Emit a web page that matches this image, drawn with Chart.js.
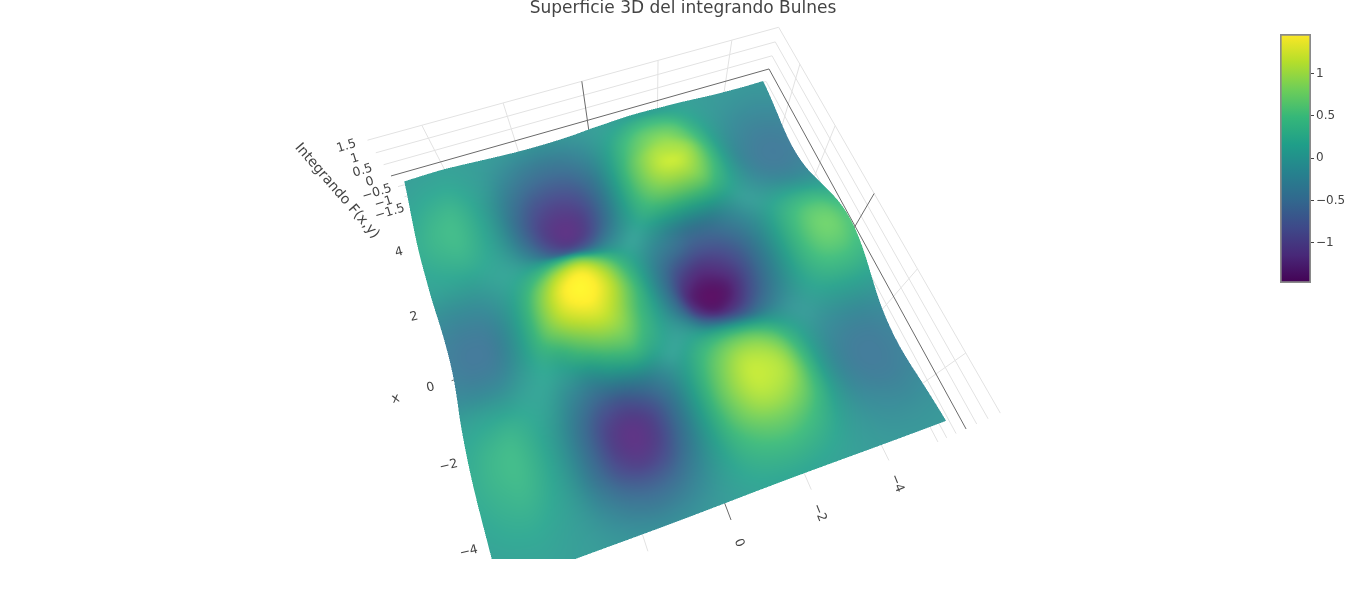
<!DOCTYPE html>
<html>
<head>
<meta charset="utf-8">
<title>Superficie 3D del integrando Bulnes</title>
<script src="https://cdn.jsdelivr.net/npm/chart.js@4"></script>
<style>
  html, body { margin: 0; padding: 0; background: #fff; overflow: hidden; }
  #surfaceChart { position: absolute; left: 0; top: 0; }
  #colorbarChart { position: absolute; left: 1260px; top: 0; }
</style>
</head>
<body>
<canvas id="surfaceChart" width="1366" height="559"></canvas>
<canvas id="colorbarChart" width="106" height="300"></canvas>
<script>
const xValues = [5,4.5,4,3.5,3,2.5,2,1.5,1,0.5,0,-0.5,-1,-1.5,-2,-2.5,-3,-3.5,-4,-4.5,-5];
const yValues = [-5,-4.5,-4,-3.5,-3,-2.5,-2,-1.5,-1,-0.5,0,0.5,1,1.5,2,2.5,3,3.5,4,4.5,5];

// F(x,y), one row per x value, one column per y value
const zRows = [
  [-.05,-.06,-.05,-.03,.01,.05,.07,.09,.09,.05,.01,-.05,-.08,-.09,-.08,-.05,-.01,.03,.06,.05,.03],
  [-.11,-.13,-.11,-.06,.03,.17,.30,.36,.33,.20,.02,-.17,-.31,-.36,-.30,-.17,-.03,.06,.12,.11,.07],
  [-.20,-.23,-.21,-.11,.07,.31,.54,.62,.58,.38,.04,-.32,-.58,-.65,-.55,-.32,-.05,.12,.22,.20,.13],
  [-.30,-.34,-.30,-.16,.10,.44,.72,.85,.78,.52,.06,-.47,-.84,-.95,-.82,-.47,-.08,.18,.32,.29,.19],
  [-.35,-.39,-.35,-.19,.12,.53,.90,1.02,.98,.65,.07,-.55,-.99,-1.12,-.96,-.55,-.08,.21,.37,.34,.23],
  [-.31,-.35,-.31,-.16,.11,.50,.90,1.10,1.02,.64,.07,-.50,-.92,-1.05,-.87,-.48,-.06,.20,.35,.31,.21],
  [-.18,-.19,-.16,-.09,.06,.30,.62,.72,.68,.44,.06,-.30,-.58,-.62,-.52,-.25,.00,.15,.24,.20,.13],
  [.04,.07,.08,.04,-.02,-.14,-.28,-.30,-.15,.02,.05,-.03,-.02,.10,.14,.13,.10,.08,.05,.04,.03],
  [.28,.37,.35,.19,-.12,-.46,-.70,-.72,-.50,-.26,.04,.30,.58,.78,.72,.50,.23,.00,-.15,-.18,-.16],
  [.47,.60,.57,.30,-.18,-.70,-1.05,-1.18,-.95,-.45,.04,.52,1.00,1.28,1.18,.82,.34,-.05,-.30,-.35,-.30],
  [.54,.69,.65,.34,-.20,-.78,-1.30,-1.42,-1.18,-.52,.04,.60,1.15,1.45,1.38,.95,.38,-.07,-.36,-.41,-.35],
  [.47,.60,.57,.30,-.16,-.66,-1.12,-1.25,-.98,-.42,.05,.50,1.02,1.30,1.20,.82,.34,-.05,-.30,-.35,-.30],
  [.29,.37,.35,.18,-.10,-.38,-.62,-.62,-.45,-.12,.08,.40,.80,.88,.64,.30,.18,.00,-.15,-.18,-.16],
  [.06,.08,.07,.03,-.03,.00,.08,.16,.22,.20,.08,.18,.38,.22,-.06,-.05,.08,.08,.05,.04,.02],
  [-.15,-.18,-.17,-.11,.05,.30,.58,.74,.72,.50,.12,-.20,-.42,-.62,-.58,-.30,.01,.16,.24,.20,.13],
  [-.27,-.34,-.32,-.19,.08,.47,.86,1.02,1.00,.68,.15,-.42,-.88,-1.05,-.90,-.48,-.06,.20,.35,.31,.20],
  [-.31,-.38,-.37,-.22,.08,.52,.94,1.08,1.06,.74,.15,-.47,-.96,-1.12,-.96,-.52,-.08,.21,.37,.33,.22],
  [-.27,-.34,-.32,-.19,.08,.46,.80,.96,.93,.63,.12,-.40,-.82,-.97,-.83,-.47,-.07,.18,.32,.28,.19],
  [-.18,-.23,-.21,-.13,.05,.31,.54,.66,.62,.42,.08,-.27,-.55,-.64,-.55,-.32,-.05,.12,.22,.20,.13],
  [-.10,-.12,-.12,-.07,.02,.17,.30,.37,.34,.23,.05,-.15,-.30,-.36,-.30,-.17,-.03,.06,.12,.11,.07],
  [-.04,-.06,-.05,-.03,.01,.07,.12,.15,.14,.10,.02,-.06,-.12,-.14,-.12,-.07,-.01,.03,.06,.05,.03]
];

const xTicks = [-4,-2,0,2,4];
const yTicks = [-4,-2,0,2,4];
const zTicks = [-1.5,-1,-0.5,0,0.5,1,1.5];
const colorbarTicks = [-1,-0.5,0,0.5,1];
const viridisColors = ["#440154","#482878","#3e4989","#31688e","#26828e","#1f9e89","#35b779","#6ece58","#b5de2b","#fde725"];

const chartTitle = "Superficie 3D del integrando Bulnes";
const zTitle = "Integrando F(x,y)";
const xTitle = "x";

const colorMin = -1.473, colorMax = 1.467;
const boxSide = 5.3, boxZ = 1.5;

// camera of the scene, world (x,y,z,1) to screen units
const camera = [
  [2.028, -41.57, -35.86, 600.55],
  [-26.90, 9.566, -31.57, 267.85],
  [0.02291, -0.00768, -0.055, 0.9193]
];

const titleSize = 17;
const titleBox = titleSize * 1.2;
const fontName = "'DejaVu Sans', Verdana, sans-serif";
const textColor = "#444";

function project(x, y, z) {
  const r = camera.map(c => c[0]*x + c[1]*y + c[2]*z + c[3]);
  return { x: r[0]/r[2], y: r[1]/r[2] };
}

function tickText(v) {
  return v < 0 ? "\u2212" + Math.abs(v) : String(v);
}

function hexRgb(h) {
  return [1,3,5].map(i => parseInt(h.substr(i,2),16));
}

const viridisRgb = viridisColors.map(hexRgb);
function viridis(z) {
  let t = (z - colorMin) / (colorMax - colorMin);
  t = Math.max(0, Math.min(1, t)) * (viridisRgb.length - 1);
  const i = Math.min(Math.floor(t), viridisRgb.length - 2);
  const f = t - i;
  return viridisRgb[i].map((c,k) => c + (viridisRgb[i+1][k] - c) * f);
}

// smooth reading of zRows between the table entries, only used to paint the mesh
function catmull(a, b, c, d, t) {
  return 0.5*((2*b) + (c-a)*t + (2*a-5*b+4*c-d)*t*t + (3*b-a-3*c+d)*t*t*t);
}
function zAt(u, v) {
  const n = zRows.length - 1, m = zRows[0].length - 1;
  const i = Math.min(Math.floor(u), n-1), j = Math.min(Math.floor(v), m-1);
  const row = k => {
    const r = zRows[Math.max(0, Math.min(n, k))];
    return catmull(r[Math.max(0,j-1)], r[j], r[j+1], r[Math.min(m,j+2)], v-j);
  };
  return catmull(row(i-1), row(i), row(i+1), row(i+2), u-i);
}

function shaded(u, v) {
  const z = zAt(u, v);
  const n = zRows.length - 1;
  const m = zRows[0].length - 1;
  const u0 = Math.max(0,u-0.5), u1 = Math.min(n,u+0.5);
  const v0 = Math.max(0,v-0.5), v1 = Math.min(m,v+0.5);
  const dzu = (zAt(u1,v) - zAt(u0,v)) / ((u1-u0)*0.5);
  const dzv = (zAt(u,v1) - zAt(u,v0)) / ((v1-v0)*0.5);
  const slope = Math.sqrt(dzu*dzu + dzv*dzv) * (boxSide/boxZ);
  const s = 1 / Math.sqrt(1 + slope*slope*0.2);
  const c = viridis(z);
  const lift = [22, 11, 11];
  return c.map((w,k) => Math.min(255, w*(0.92+0.10*s) + lift[k]*s));
}

// flat list of the grid points, so the mesh is laid out by the chart scales
const surfacePoints = [];
xValues.forEach((x,i) => yValues.forEach((y,j) => surfacePoints.push({ ...project(x, y, zRows[i][j]), i, j })));

function fillTriangle(img, a, b, c) {
  const w = img.width, h = img.height, px = img.data;
  const x0 = Math.max(0, Math.floor(Math.min(a.x, b.x, c.x)));
  const x1 = Math.min(w-1, Math.ceil(Math.max(a.x, b.x, c.x)));
  const y0 = Math.max(0, Math.floor(Math.min(a.y, b.y, c.y)));
  const y1 = Math.min(h-1, Math.ceil(Math.max(a.y, b.y, c.y)));
  const area = (b.x-a.x)*(c.y-a.y) - (b.y-a.y)*(c.x-a.x);
  if (Math.abs(area) < 1e-6) return;
  for (let y = y0; y <= y1; y++) {
    for (let x = x0; x <= x1; x++) {
      const pxx = x + 0.5, pxy = y + 0.5;
      const l1 = ((b.x-pxx)*(c.y-pxy) - (b.y-pxy)*(c.x-pxx)) / area;
      const l2 = ((c.x-pxx)*(a.y-pxy) - (c.y-pxy)*(a.x-pxx)) / area;
      const l3 = 1 - l1 - l2;
      if (l1 < -0.001 || l2 < -0.001 || l3 < -0.001) continue;
      const o = (y*w + x) * 4;
      px[o]   = l1*a.c[0] + l2*b.c[0] + l3*c.c[0];
      px[o+1] = l1*a.c[1] + l2*b.c[1] + l3*c.c[1];
      px[o+2] = l1*a.c[2] + l2*b.c[2] + l3*c.c[2];
      px[o+3] = 255;
    }
  }
}

const surfaceMesh = {
  id: "surfaceMesh",
  afterDatasetsDraw(chart) {
    const ctx = chart.ctx, sx = chart.scales.x, sy = chart.scales.y;
    const steps = 6, ss = 2;
    const n = (xValues.length - 1) * steps, m = (yValues.length - 1) * steps;
    const pos = [];
    for (let a = 0; a <= n; a++) {
      const line = [];
      const wx = xValues[0] + (xValues[xValues.length-1] - xValues[0]) * a / n;
      for (let b = 0; b <= m; b++) {
        const wy = yValues[0] + (yValues[yValues.length-1] - yValues[0]) * b / m;
        const p = project(wx, wy, zAt(a/steps, b/steps));
        line.push({ x: sx.getPixelForValue(p.x)*ss, y: sy.getPixelForValue(p.y)*ss, c: shaded(a/steps, b/steps) });
      }
      pos.push(line);
    }
    const off = document.createElement("canvas");
    off.width = chart.width*ss;
    off.height = chart.height*ss;
    const octx = off.getContext("2d");
    const img = octx.createImageData(off.width, off.height);
    for (let a = 0; a < n; a++) {
      for (let b = 0; b < m; b++) {
        fillTriangle(img, pos[a][b], pos[a][b+1], pos[a+1][b+1]);
        fillTriangle(img, pos[a][b], pos[a+1][b+1], pos[a+1][b]);
      }
    }
    octx.putImageData(img, 0, 0);
    ctx.save();
    ctx.imageSmoothingEnabled = true;
    ctx.imageSmoothingQuality = "high";
    ctx.drawImage(off, 0, 0, chart.width, chart.height);
    ctx.restore();
  }
};

function drawLabel(chart, text, p, dx, dy, deg, size) {
  const ctx = chart.ctx;
  ctx.save();
  ctx.translate(chart.scales.x.getPixelForValue(p.x) + dx, chart.scales.y.getPixelForValue(p.y) + dy);
  ctx.rotate(deg * Math.PI / 180);
  ctx.font = `${size}px ${fontName}`;
  ctx.fillStyle = textColor;
  ctx.textAlign = "center";
  ctx.textBaseline = "middle";
  ctx.fillText(text, 0, 0);
  ctx.restore();
}

const axisLabels = {
  id: "axisLabels",
  afterDraw(chart) {
    zTicks.forEach(z => drawLabel(chart, tickText(z), project(boxSide, boxSide, z), -21, 6, -17, 12.5));
    xTicks.forEach(x => drawLabel(chart, tickText(x), project(x, boxSide, -boxZ), -21, 7, -14, 12.5));
    yTicks.forEach(y => drawLabel(chart, tickText(y), project(-boxSide, y, -boxZ), 8, 23, 68, 12.5));
    drawLabel(chart, zTitle, project(boxSide, boxSide, 0), -54, 15, 49, 14);
    drawLabel(chart, xTitle, project(0, boxSide, -boxZ), -56, 18, -14, 13);
  }
};

function gridLine(a, b, major) {
  return {
    data: [project(...a), project(...b)],
    showLine: true,
    pointRadius: 0,
    borderWidth: 1,
    borderColor: major ? "#6a6a6a" : "#e2e2e2",
    order: major ? 0 : 1
  };
}

const lineSets = [];
zTicks.forEach(z => {
  lineSets.push(gridLine([boxSide, boxSide, z], [boxSide, -boxSide, z], z === 0));
  lineSets.push(gridLine([boxSide, -boxSide, z], [-boxSide, -boxSide, z], z === 0));
});
yTicks.forEach(y => {
  lineSets.push(gridLine([boxSide, y, -boxZ], [boxSide, y, boxZ], y === 0));
  lineSets.push(gridLine([-boxSide, y, -boxZ], [boxSide, y, -boxZ], y === 0));
});
xTicks.forEach(x => {
  lineSets.push(gridLine([x, -boxSide, -boxZ], [x, -boxSide, boxZ], x === 0));
  lineSets.push(gridLine([x, -boxSide, -boxZ], [x, boxSide, -boxZ], x === 0));
});

new Chart(document.getElementById("surfaceChart"), {
  type: "scatter",
  data: {
    datasets: [
      { label: "F(x,y)", data: surfacePoints, showLine: false, pointRadius: 0 },
      ...lineSets
    ]
  },
  options: {
    responsive: false,
    animation: false,
    layout: { padding: 0 },
    scales: {
      x: { display: false, min: 0, max: 1366 },
      y: { display: false, reverse: true, min: titleBox, max: 559 }
    },
    plugins: {
      legend: { display: false },
      tooltip: { enabled: false },
      title: {
        display: true,
        text: chartTitle,
        color: textColor,
        font: { family: fontName, size: titleSize, weight: "normal", lineHeight: 1.2 },
        padding: { top: -2, bottom: 2 }
      }
    }
  },
  plugins: [surfaceMesh, axisLabels]
});

new Chart(document.getElementById("colorbarChart"), {
  type: "bar",
  data: {
    labels: ["F(x,y)"],
    datasets: [{
      data: [[colorMin, colorMax]],
      barPercentage: 1,
      categoryPercentage: 1,
      borderColor: "#8a8a8a",
      borderWidth: 2,
      borderSkipped: false,
      backgroundColor(ctx) {
        const chart = ctx.chart;
        if (!chart.chartArea) return viridisColors[0];
        const sy = chart.scales.y;
        const g = chart.ctx.createLinearGradient(0, sy.getPixelForValue(colorMin), 0, sy.getPixelForValue(colorMax));
        viridisColors.forEach((c,i) => g.addColorStop(i / (viridisColors.length - 1), c));
        return g;
      }
    }]
  },
  options: {
    responsive: false,
    animation: false,
    layout: { padding: { left: 20, top: 34, bottom: 17 } },
    scales: {
      x: { display: false },
      y: {
        position: "right",
        min: colorMin,
        max: colorMax,
        afterBuildTicks(axis) { axis.ticks = colorbarTicks.map(v => ({ value: v })); },
        afterFit(axis) { axis.width = 55; },
        grid: { drawOnChartArea: false, drawTicks: true, tickLength: 3, color: textColor },
        border: { display: false },
        ticks: {
          padding: 2,
          color: textColor,
          font: { family: fontName, size: 12 },
          callback: v => tickText(v)
        }
      }
    },
    plugins: { legend: { display: false }, tooltip: { enabled: false } }
  }
});
</script>
</body>
</html>
